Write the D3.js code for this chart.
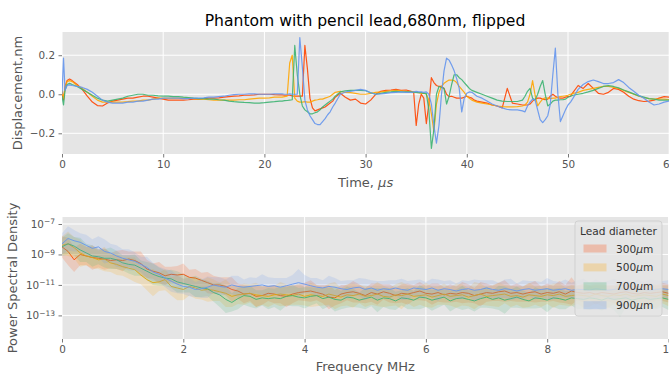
<!DOCTYPE html>
<html>
<head>
<meta charset="utf-8">
<script src="https://cdn.jsdelivr.net/npm/d3@7"></script>
<style>
body { margin: 0; background: #fff; }
svg { display: block; font-family: "DejaVu Sans", sans-serif; }
</style>
</head>
<body>
<svg id="chart" width="669" height="374"></svg>
<script>
// ---- top panel: displacement vs time (nm vs us) ----
const timeUs = [
  0, 0.15, 0.3, 0.5, 0.75, 1, 1.5, 2, 2.5, 3, 3.5, 4, 4.5, 5, 5.5, 6, 6.5, 7, 7.5, 8, 8.5, 9, 9.5, 10, 10.5, 11, 11.5, 12, 12.5, 13, 13.5, 14, 14.5, 15, 15.5, 16, 16.5, 17, 17.5, 18, 18.5, 19, 19.5, 20, 20.5, 21, 21.5,
  21.75, 22, 22.25, 22.5, 22.75, 23, 23.25, 23.5, 23.75, 24, 24.25, 24.5, 24.75, 25, 25.25, 25.5, 25.75, 26, 26.25, 26.5, 26.75, 27,
  27.5, 28, 28.5, 29, 29.5, 30, 30.5, 31, 31.5, 32, 32.5, 33, 33.5, 34, 34.5,
  34.75, 35, 35.25, 35.5, 35.75, 36, 36.25, 36.5, 36.75, 37, 37.25, 37.5, 37.75, 38, 38.25, 38.5, 38.75, 39, 39.25, 39.5, 39.75, 40, 40.25, 40.5, 40.75, 41,
  41.5, 42, 42.5, 43, 43.5, 44, 44.5, 45, 45.5,
  45.75, 46, 46.25, 46.5, 46.75, 47, 47.25, 47.5, 47.75, 48, 48.25, 48.5, 48.75, 49, 49.25, 49.5, 49.75, 50, 50.25, 50.5,
  51, 51.5, 52, 52.5, 53, 53.5, 54, 54.5, 55, 55.5, 56, 56.5, 57, 57.5, 58, 58.5, 59, 59.5, 60
]
const disp300 = [
  0, -0.03, 0.04, 0.07, 0.078, 0.07, 0.05, 0.025, -0.01, -0.04, -0.058, -0.06, -0.045, -0.035, -0.03, -0.025, -0.02, -0.02, -0.015, -0.01, -0.01, -0.015, -0.02, -0.025, -0.03, -0.03, -0.03, -0.03, -0.028, -0.025, -0.025, -0.022, -0.02, -0.02, -0.018, -0.015, -0.012, -0.01, -0.008, -0.005, -0.005, -0.003, 0, 0, 0, -0.002, -0.003,
  -0.003, -0.005, -0.005, -0.005, -0.008, -0.01, -0.01, -0.01, -0.01, 0.25, 0.13, -0.02, -0.07, -0.085, -0.08, -0.075, -0.07, -0.065, -0.055, -0.045, -0.035, -0.015,
  0.005, -0.015, -0.03, -0.025, -0.045, -0.05, -0.03, 0, 0.015, 0.02, 0.022, 0.025, 0.02, 0.022, 0.015,
  0.01, -0.16, -0.05, 0, -0.02, -0.15, -0.05, 0.085, 0.06, 0.045, 0.04, 0.04, 0.03, 0, -0.012, -0.01, -0.015, -0.02, -0.02, -0.02, -0.015, -0.01, -0.015, -0.02, -0.03, -0.035,
  -0.04, -0.045, -0.055, -0.06, -0.07, 0.03, -0.045, -0.05, -0.055,
  -0.055, -0.055, -0.05, -0.035, -0.025, -0.02, -0.02, -0.025, -0.028, -0.025, -0.01, 0, -0.01, -0.018, -0.02, -0.02, -0.015, -0.012, -0.01, 0.01,
  0.045, 0.03, 0.055, 0.03, 0.005, 0, 0.01, 0.03, 0.025, 0.01, -0.01, -0.025, -0.033, -0.037, -0.035, -0.03, -0.02, -0.012, -0.015
]
const disp500 = [
  0.02, -0.02, 0.03, 0.065, 0.07, 0.065, 0.045, 0.03, 0.01, -0.01, -0.03, -0.04, -0.04, -0.04, -0.04, -0.04, -0.038, -0.035, -0.035, -0.03, -0.03, -0.025, -0.02, -0.02, -0.02, -0.02, -0.02, -0.02, -0.02, -0.022, -0.025, -0.025, -0.028, -0.03, -0.03, -0.03, -0.03, -0.03, -0.028, -0.028, -0.025, -0.022, -0.02, -0.02, -0.018, -0.015, -0.015,
  -0.015, -0.012, -0.01, 0.16, 0.2, -0.02, -0.035, -0.04, -0.04, -0.038, -0.04, -0.04, -0.035, -0.03, -0.028, -0.025, -0.025, -0.02, -0.015, -0.01, 0, 0.01,
  0.015, 0.01, 0.008, 0.005, 0, 0, 0.005, 0.01, 0.012, 0.015, 0.018, 0.02, 0.018, 0.015, 0.012,
  0.012, 0.01, 0.008, 0.005, 0.005, 0, -0.03, -0.1, -0.19, -0.05, 0.01, 0.04, 0.056, 0.065, 0.073, 0.072, 0.07, 0.06, 0.04, 0.025, 0.01, -0.01, -0.02, -0.03, -0.035, -0.04,
  -0.045, -0.05, -0.055, -0.06, -0.063, -0.065, -0.065, -0.063, -0.06,
  -0.055, -0.04, 0, 0.07, -0.005, -0.06, -0.04, -0.025, -0.018, -0.02, -0.022, -0.02, -0.02, -0.015, -0.012, -0.01, -0.008, -0.005, 0, 0.005,
  0.01, 0.02, 0.025, 0.03, 0.035, 0.04, 0.04, 0.035, 0.03, 0.02, 0.01, 0, -0.01, -0.018, -0.022, -0.025, -0.025, -0.025, -0.028
]
const disp700 = [
  -0.01, -0.055, 0.02, 0.05, 0.056, 0.05, 0.04, 0.025, 0.01, -0.005, -0.02, -0.03, -0.035, -0.03, -0.025, -0.02, -0.01, -0.005, 0, 0, -0.005, -0.005, -0.008, -0.01, -0.01, -0.012, -0.012, -0.015, -0.017, -0.02, -0.022, -0.022, -0.025, -0.025, -0.028, -0.03, -0.035, -0.038, -0.04, -0.042, -0.043, -0.045, -0.045, -0.043, -0.04, -0.038, -0.035,
  -0.035, -0.033, -0.032, -0.03, -0.028, 0.25, 0.1, 0, -0.06, -0.08, -0.09, -0.1, -0.1, -0.095, -0.09, -0.08, -0.065, -0.055, -0.045, -0.035, -0.025, -0.01,
  0.012, 0.018, 0.02, 0.02, 0.02, 0.018, 0.008, 0, 0.005, 0.01, 0.012, 0.015, 0.012, 0.012, 0.012,
  0.01, 0.01, 0.008, 0.008, 0.005, 0.005, -0.08, -0.277, -0.18, 0, 0.04, 0.035, 0.03, -0.05, -0.01, 0.05, 0.1, 0.1, 0.085, 0.075, 0.06, 0.045, 0.03, 0.02, 0.015, 0.01,
  0, -0.01, -0.02, -0.03, -0.035, -0.037, -0.037, -0.037, -0.03,
  -0.01, 0.015, 0.03, -0.02, -0.03, 0, 0.04, 0.07, 0, -0.06, -0.05, -0.035, -0.03, -0.03, -0.028, -0.028, -0.025, -0.015, -0.01, -0.005,
  0, 0.005, 0.012, 0.02, 0.03, 0.04, 0.044, 0.04, 0.033, 0.022, 0.012, 0.002, -0.008, -0.015, -0.022, -0.025, -0.03, -0.03, -0.03
]
const disp900 = [
  0, 0.185, 0.02, 0.045, 0.048, 0.045, 0.04, 0.035, 0.025, 0.01, -0.01, -0.03, -0.04, -0.045, -0.045, -0.045, -0.04, -0.04, -0.035, -0.035, -0.03, -0.025, -0.025, -0.02, -0.02, -0.02, -0.02, -0.022, -0.022, -0.02, -0.02, -0.018, -0.015, -0.015, -0.012, -0.01, -0.005, -0.002, 0, 0, 0.002, 0.002, 0, 0, 0, 0.002, 0.002,
  0.002, 0, 0, 0.002, 0, 0, 0, 0.29, 0.14, -0.03, -0.08, -0.11, -0.13, -0.15, -0.155, -0.155, -0.14, -0.125, -0.105, -0.09, -0.065, -0.045,
  0, 0.012, 0.015, 0.02, 0.025, 0.02, 0.008, 0, 0.002, 0.005, 0.008, 0.01, 0.012, 0.01, 0.01,
  0.012, 0.015, 0.012, 0.012, 0.01, 0.012, 0, -0.05, -0.16, -0.25, -0.16, 0, 0.12, 0.185, 0.175, 0.15, 0.12, 0.08, 0.03, -0.09, -0.02, 0.005, 0.012, 0.01, 0, -0.01,
  -0.02, -0.035, -0.05, -0.06, -0.07, -0.078, -0.08, -0.08, -0.085,
  -0.09, -0.06, -0.04, -0.025, -0.03, -0.08, -0.13, -0.145, -0.13, -0.11, -0.05, 0.1, 0.236, 0, -0.14, -0.11, -0.08, -0.055, -0.04, -0.02,
  0.025, 0.05, 0.065, 0.073, 0.065, 0.055, 0.055, 0.06, 0.075, 0.06, 0.035, 0.015, -0.005, -0.02, -0.04, -0.055, -0.05, -0.04, -0.035
]

// ---- bottom panel: power spectral density (log10 value) vs frequency (MHz) ----
const freqMHz = [
  0, 0.1, 0.2, 0.3, 0.4, 0.5, 0.6, 0.7, 0.8, 0.9, 1, 1.1, 1.2, 1.3, 1.4, 1.5, 1.6, 1.7, 1.8, 1.9,
  2, 2.1, 2.2, 2.3, 2.4, 2.5, 2.6, 2.7, 2.8, 2.9, 3, 3.1, 3.2, 3.3, 3.4, 3.5, 3.6, 3.7, 3.8, 3.9,
  4, 4.1, 4.2, 4.3, 4.4, 4.5, 4.6, 4.7, 4.8, 4.9, 5, 5.1, 5.2, 5.3, 5.4, 5.5, 5.6, 5.7, 5.8, 5.9,
  6, 6.1, 6.2, 6.3, 6.4, 6.5, 6.6, 6.7, 6.8, 6.9, 7, 7.1, 7.2, 7.3, 7.4, 7.5, 7.6, 7.7, 7.8, 7.9,
  8, 8.1, 8.2, 8.3, 8.4, 8.5, 8.6, 8.7, 8.8, 8.9, 9, 9.1, 9.2, 9.3, 9.4, 9.5, 9.6, 9.7, 9.8, 9.9, 10
]
const psd300 = [
  -8.5, -8.8, -9.35, -9.0, -9.1, -9.2, -9.25, -9.3, -9.4, -9.35, -9.4, -9.3, -9.4, -9.6, -9.95, -10.1, -10.2, -10.4, -10.3, -10.35,
  -10.3, -10.5, -10.55, -10.7, -10.85, -11.0, -11.0, -11.1, -11.3, -11.4, -11.6, -11.55, -11.75, -11.7, -11.55, -11.6, -11.7, -11.75, -11.6, -11.5,
  -11.45, -11.4, -11.5, -11.6, -11.8, -11.85, -11.6, -11.5, -11.45, -11.55, -11.7, -11.5, -11.6, -11.45, -11.55, -11.7, -11.55, -11.6, -11.5, -11.4,
  -11.55, -11.6, -11.5, -11.65, -11.55, -11.6, -11.5, -11.55, -11.7, -11.6, -11.5, -11.55, -11.45, -11.4, -11.55, -11.5, -11.6, -11.5, -11.45, -11.6,
  -11.5, -11.55, -11.45, -11.6, -11.4, -11.5, -11.55, -11.5, -11.6, -11.5, -11.55, -11.6, -11.5, -11.45, -11.55, -11.6, -11.5, -11.55, -11.5, -11.45, -11.55
]
const psd500 = [
  -8.4, -8.3, -8.55, -8.9, -9.1, -9.2, -9.35, -9.3, -9.55, -9.65, -9.8, -9.9, -10.0, -10.35, -10.65, -10.85, -10.8, -10.65, -11.1, -11.2,
  -11.3, -11.1, -11.2, -11.35, -11.3, -11.35, -11.45, -11.55, -11.75, -11.65, -11.6, -11.55, -11.65, -11.7, -11.75, -11.65, -11.6, -11.65, -11.7, -11.6,
  -11.75, -11.65, -11.7, -11.75, -11.6, -11.7, -11.8, -11.65, -11.7, -11.6, -11.75, -11.7, -11.6, -11.75, -11.8, -11.65, -11.7, -11.6, -11.75, -11.7,
  -11.65, -11.8, -11.7, -11.6, -11.75, -11.7, -11.65, -11.8, -11.7, -11.6, -11.75, -11.7, -11.65, -11.6, -11.75, -11.7, -11.8, -11.65, -11.7, -11.75,
  -11.65, -11.7, -11.6, -11.75, -11.7, -11.65, -11.7, -11.75, -11.6, -11.7, -11.75, -11.65, -11.7, -11.6, -11.75, -11.7, -11.65, -11.7, -11.75, -11.6, -11.7
]
const psd700 = [
  -8.5, -8.3, -8.45, -8.7, -8.9, -9.1, -9.15, -9.25, -9.25, -9.35, -9.55, -9.65, -9.7, -9.9, -10.1, -10.3, -10.45, -10.55, -10.6, -10.8,
  -10.9, -11.0, -11.1, -11.2, -11.25, -11.5, -11.65, -11.95, -12.15, -11.9, -11.7, -11.75, -11.95, -11.85, -11.9, -11.85, -11.9, -11.75, -11.7, -11.8,
  -11.85, -11.75, -11.7, -11.9, -11.8, -11.95, -12.0, -11.8, -11.85, -12.0, -11.9, -11.8, -12.0, -11.85, -11.9, -12.05, -11.85, -11.9, -12.0, -11.8,
  -11.85, -12.0, -11.9, -11.8, -12.05, -11.9, -11.85, -11.95, -12.05, -11.9, -11.8, -11.95, -11.85, -12.0, -11.9, -11.8, -11.95, -12.05, -11.85, -11.9,
  -12.0, -11.85, -11.9, -12.0, -11.85, -11.9, -11.95, -11.85, -11.9, -12.0, -11.85, -11.95, -11.9, -11.85, -12.0, -11.9, -11.85, -11.95, -11.9, -11.85, -11.95
]
const psd900 = [
  -8.3, -7.95, -8.1, -8.2, -8.4, -8.6, -8.5, -8.8, -8.9, -9.1, -9.25, -9.35, -9.45, -9.65, -9.85, -10.15, -10.3, -10.55, -10.75, -10.95,
  -11.1, -11.15, -11.3, -11.25, -11.15, -11.0, -11.1, -11.15, -11.0, -11.1, -11.15, -11.1, -11.05, -11.0, -11.1, -11.05, -11.15, -11.05, -10.95, -10.85,
  -10.95, -11.05, -11.15, -11.2, -11.1, -11.15, -11.25, -11.3, -11.2, -11.15, -11.3, -11.2, -11.35, -11.25, -11.3, -11.2, -11.3, -11.35, -11.2, -11.25,
  -11.3, -11.2, -11.35, -11.25, -11.3, -11.4, -11.3, -11.25, -11.35, -11.3, -11.2, -11.3, -11.35, -11.25, -11.3, -11.4, -11.3, -11.25, -11.35, -11.3,
  -11.25, -11.35, -11.3, -11.25, -11.35, -11.3, -11.3, -11.35, -11.25, -11.3, -11.35, -11.3, -11.25, -11.35, -11.3, -11.25, -11.3, -11.35, -11.3, -11.25, -11.3
]
// half width of the shaded spread, in decades
const spread300 = [
  .7, .9, .8, .7, .6, .8, .6, .7, .5, .6, .7, .5, .6, .8, .6, .5, .7, .6, .5, .6,
  .7, .5, .6, .5, .7, .6, .5, .6, .8, .5, .6, .5, .7, .6, .5, .6, .5, .7, .6, .5,
  .6, .7, .5, .6, .8, .5, .6, .5, .7, .6, .5, .6, .7, .5, .6, .5, .6, .7, .5, .6,
  .5, .7, .6, .5, .6, .5, .7, .6, .5, .8, .6, .5, .6, .7, .5, .6, .5, .6, .7, .5,
  .6, .5, .7, .6, .9, .5, .6, .5, .7, .6, .5, .6, .7, .5, .6, .5, .6, .7, .5, .6, .6
]
const spread500 = [
  .6, .8, .7, .9, .6, .7, .6, .8, .6, .7, .6, .7, .8, .6, .7, .9, .6, .7, .6, .8,
  .7, .6, .7, .6, .8, .7, .6, .9, .7, .6, .7, .6, .8, .6, .7, .6, .8, .7, .6, .7,
  .6, .8, .7, .6, .7, .9, .6, .7, .8, .6, .7, .6, .8, .7, .6, .7, .9, .6, .7, .6,
  .8, .7, .6, .7, .6, .8, .7, .6, .9, .7, .6, .7, .8, .6, .7, .6, .7, .8, .6, .7,
  .6, .8, .7, .6, .7, .6, .8, .7, .6, .7, .8, .6, .7, .6, .8, .7, .6, .7, .8, .6, .7
]
const spread700 = [
  .6, .7, .6, .8, .6, .7, .5, .6, .7, .6, .5, .6, .7, .5, .6, .7, .6, .5, .6, .7,
  .6, .5, .7, .6, .5, .6, .8, .9, .6, .7, .6, .7, .6, .5, .7, .6, .8, .6, .7, .6,
  .7, .6, .5, .7, .6, .8, .6, .7, .6, .5, .7, .6, .8, .6, .7, .6, .5, .7, .6, .8,
  .6, .7, .6, .5, .7, .6, .8, .6, .7, .6, .7, .6, .8, .9, .6, .7, .6, .5, .7, .6,
  .8, .6, .7, .6, .5, .7, .6, .8, .6, .7, .6, .7, 1.2, .6, .7, .6, .8, .6, .7, .6, .7
]
const spread900 = [
  .7, .8, .7, .6, .7, .6, .7, .8, .6, .7, .6, .7, .6, .5, .7, .6, .5, .6, .7, .6,
  .5, .6, .5, .6, .7, .5, .6, .5, .6, .7, .5, .6, .5, .7, .6, .5, .6, .5, .6, .9,
  .6, .5, .6, .5, .7, .6, .5, .6, .5, .6, .7, .5, .6, .5, .6, .5, .7, .6, .5, .6,
  .5, .6, .7, .5, .6, .5, .6, .5, .7, .6, .5, .6, .5, .6, .7, .5, .6, .5, .6, .5,
  .7, .6, .5, .6, .5, .6, .7, .5, .6, .5, .6, .7, .5, .6, .5, .6, .5, .7, .6, .5, .6
]

const leadLabels = ['300', '500', '700', '900']
const dispSeries = [disp300, disp500, disp700, disp900]
const psdSeries = [psd300, psd500, psd700, psd900]
const spreadSeries = [spread300, spread500, spread700, spread900]
const timeTicks = [0, 10, 20, 30, 40, 50, 60]
const dispTicks = [-0.2, 0, 0.2]
const freqTicks = [0, 2, 4, 6, 8, 10]
const psdTickExps = [-7, -9, -11, -13]

dispSeries.forEach(s => { if (s.length !== timeUs.length) throw new Error('disp length ' + s.length) })
psdSeries.concat(spreadSeries).forEach(s => { if (s.length !== freqMHz.length) throw new Error('psd length ' + s.length) })

const colors = ['orangered', 'orange', 'mediumseagreen', 'cornflowerblue']
const bg = '#E5E5E5'
const ink = '#555'

const svg = d3.select('#chart')

const upperBox = { left: 62, right: 669.2, top: 32, bottom: 154 }
const lowerBox = { left: 62, right: 668.5, top: 217, bottom: 339 }

const x1 = d3.scaleLinear().domain([0, 60]).range([upperBox.left, upperBox.right])
const y1 = d3.scaleLinear().domain([-0.306, 0.319]).range([upperBox.bottom, upperBox.top])
const x2 = d3.scaleLinear().domain([0, 10]).range([lowerBox.left, lowerBox.right])
const y2 = d3.scaleLog().domain([Math.pow(10, -14.55), Math.pow(10, -6.54)]).range([lowerBox.bottom, lowerBox.top])

function drawFrame (box, id, xScale, yScale, xTicks, yTicks) {
    svg.append('rect')
        .attr('x', box.left).attr('y', box.top)
        .attr('width', box.right - box.left).attr('height', box.bottom - box.top)
        .attr('fill', bg)
    svg.append('clipPath').attr('id', id)
        .append('rect')
        .attr('x', box.left).attr('y', box.top)
        .attr('width', box.right - box.left).attr('height', box.bottom - box.top)
    const grid = svg.append('g').attr('stroke', '#fff').attr('stroke-width', 1)
    xTicks.forEach(t => {
        grid.append('line')
            .attr('x1', xScale(t)).attr('x2', xScale(t))
            .attr('y1', box.top).attr('y2', box.bottom)
    })
    yTicks.forEach(t => {
        grid.append('line')
            .attr('x1', box.left).attr('x2', box.right)
            .attr('y1', yScale(t)).attr('y2', yScale(t))
    })
}

function styleAxis (g) {
    g.select('.domain').remove()
    g.selectAll('.tick line').attr('stroke', ink).attr('stroke-width', 0.8)
    g.selectAll('.tick text').attr('fill', ink).attr('font-size', 10.4)
        .attr('font-family', '"DejaVu Sans", sans-serif')
}

// ---------- upper panel ----------
drawFrame(upperBox, 'clipUpper', x1, y1, timeTicks, dispTicks)

const upperLines = svg.append('g').attr('clip-path', 'url(#clipUpper)')
const dispLine = d3.line().x((d, i) => x1(timeUs[i])).y(d => y1(d))
dispSeries.forEach((s, k) => {
    upperLines.append('path')
        .datum(s)
        .attr('d', dispLine)
        .attr('fill', 'none')
        .attr('stroke', colors[k])
        .attr('stroke-opacity', 0.9)
        .attr('stroke-width', 1.2)
        .attr('stroke-linejoin', 'round')
})

svg.append('g')
    .attr('transform', `translate(0,${upperBox.bottom})`)
    .call(d3.axisBottom(x1).tickValues(timeTicks).tickSize(3.5).tickPadding(3.5).tickFormat(d3.format('d')))
    .call(styleAxis)
svg.append('g')
    .attr('transform', `translate(${upperBox.left},0)`)
    .call(d3.axisLeft(y1).tickValues(dispTicks).tickSize(3.5).tickPadding(3.5).tickFormat(d3.format('.1f')))
    .call(styleAxis)

svg.append('text')
    .attr('x', 365).attr('y', 26.4)
    .attr('text-anchor', 'middle')
    .attr('font-size', 15.6)
    .attr('fill', '#000')
    .text('Phantom with pencil lead,680nm, flipped')

const timeLabel = svg.append('text')
    .attr('x', (upperBox.left + upperBox.right) / 2).attr('y', 186.5)
    .attr('text-anchor', 'middle')
    .attr('font-size', 13)
    .attr('fill', ink)
timeLabel.append('tspan').text('Time, ')
timeLabel.append('tspan').attr('font-style', 'italic').text('μ')
timeLabel.append('tspan').attr('font-style', 'italic').text('s')

svg.append('text')
    .attr('transform', `translate(21.5,${(upperBox.top + upperBox.bottom) / 2}) rotate(-90)`)
    .attr('text-anchor', 'middle')
    .attr('font-size', 13)
    .attr('fill', ink)
    .text('Displacement,nm')

// ---------- lower panel ----------
drawFrame(lowerBox, 'clipLower', x2, y2, freqTicks, psdTickExps.map(e => Math.pow(10, e)))

const lowerMarks = svg.append('g').attr('clip-path', 'url(#clipLower)')
psdSeries.forEach((s, k) => {
    const spread = spreadSeries[k]
    const band = d3.area()
        .x((d, i) => x2(freqMHz[i]))
        .y0((d, i) => y2(Math.pow(10, d - spread[i])))
        .y1((d, i) => y2(Math.pow(10, d + spread[i])))
    const line = d3.line()
        .x((d, i) => x2(freqMHz[i]))
        .y(d => y2(Math.pow(10, d)))
    lowerMarks.append('path')
        .datum(s)
        .attr('d', band)
        .attr('fill', colors[k])
        .attr('fill-opacity', 0.17)
    lowerMarks.append('path')
        .datum(s)
        .attr('d', line)
        .attr('fill', 'none')
        .attr('stroke', colors[k])
        .attr('stroke-opacity', 0.9)
        .attr('stroke-width', 1)
        .attr('stroke-linejoin', 'round')
})

svg.append('g')
    .attr('transform', `translate(0,${lowerBox.bottom})`)
    .call(d3.axisBottom(x2).tickValues(freqTicks).tickSize(3.5).tickPadding(3.5).tickFormat(d3.format('d')))
    .call(styleAxis)

const yAxisLower = svg.append('g')
    .attr('transform', `translate(${lowerBox.left},0)`)
    .call(d3.axisLeft(y2).tickValues(psdTickExps.map(e => Math.pow(10, e))).tickSize(3.5).tickPadding(3.5))
    .call(styleAxis)
yAxisLower.selectAll('.tick text').each(function (d, i) {
    const t = d3.select(this)
    t.text('')
    t.append('tspan').text('10')
    t.append('tspan')
        .attr('dy', '-0.45em')
        .attr('font-size', '0.72em')
        .text('−' + Math.abs(psdTickExps[i]))
})

svg.append('text')
    .attr('x', (lowerBox.left + lowerBox.right) / 2).attr('y', 371)
    .attr('text-anchor', 'middle')
    .attr('font-size', 13)
    .attr('fill', ink)
    .text('Frequency MHz')

svg.append('text')
    .attr('transform', `translate(16.5,${(lowerBox.top + lowerBox.bottom) / 2}) rotate(-90)`)
    .attr('text-anchor', 'middle')
    .attr('font-size', 13)
    .attr('fill', ink)
    .text('Power Spectral Density')

// legend
const legend = svg.append('g').attr('transform', 'translate(575,221)')
legend.append('rect')
    .attr('width', 87).attr('height', 95).attr('rx', 3)
    .attr('fill', bg).attr('fill-opacity', 0.8)
    .attr('stroke', '#ccc').attr('stroke-opacity', 0.8).attr('stroke-width', 1)
legend.append('text')
    .attr('x', 43.5).attr('y', 14)
    .attr('text-anchor', 'middle')
    .attr('font-size', 10.6)
    .attr('fill', '#333')
    .text('Lead diameter')
leadLabels.forEach((lab, k) => {
    const cy = 27.5 + k * 18.9
    legend.append('rect')
        .attr('x', 8.5).attr('y', cy - 4)
        .attr('width', 23).attr('height', 8)
        .attr('fill', colors[k]).attr('fill-opacity', 0.25)
    const t = legend.append('text')
        .attr('x', 41).attr('y', cy + 4)
        .attr('font-size', 10.6)
        .attr('fill', '#333')
    t.append('tspan').text(lab)
    t.append('tspan').attr('font-style', 'italic').text('μ')
    t.append('tspan').text('m')
})
</script>
</body>
</html>
